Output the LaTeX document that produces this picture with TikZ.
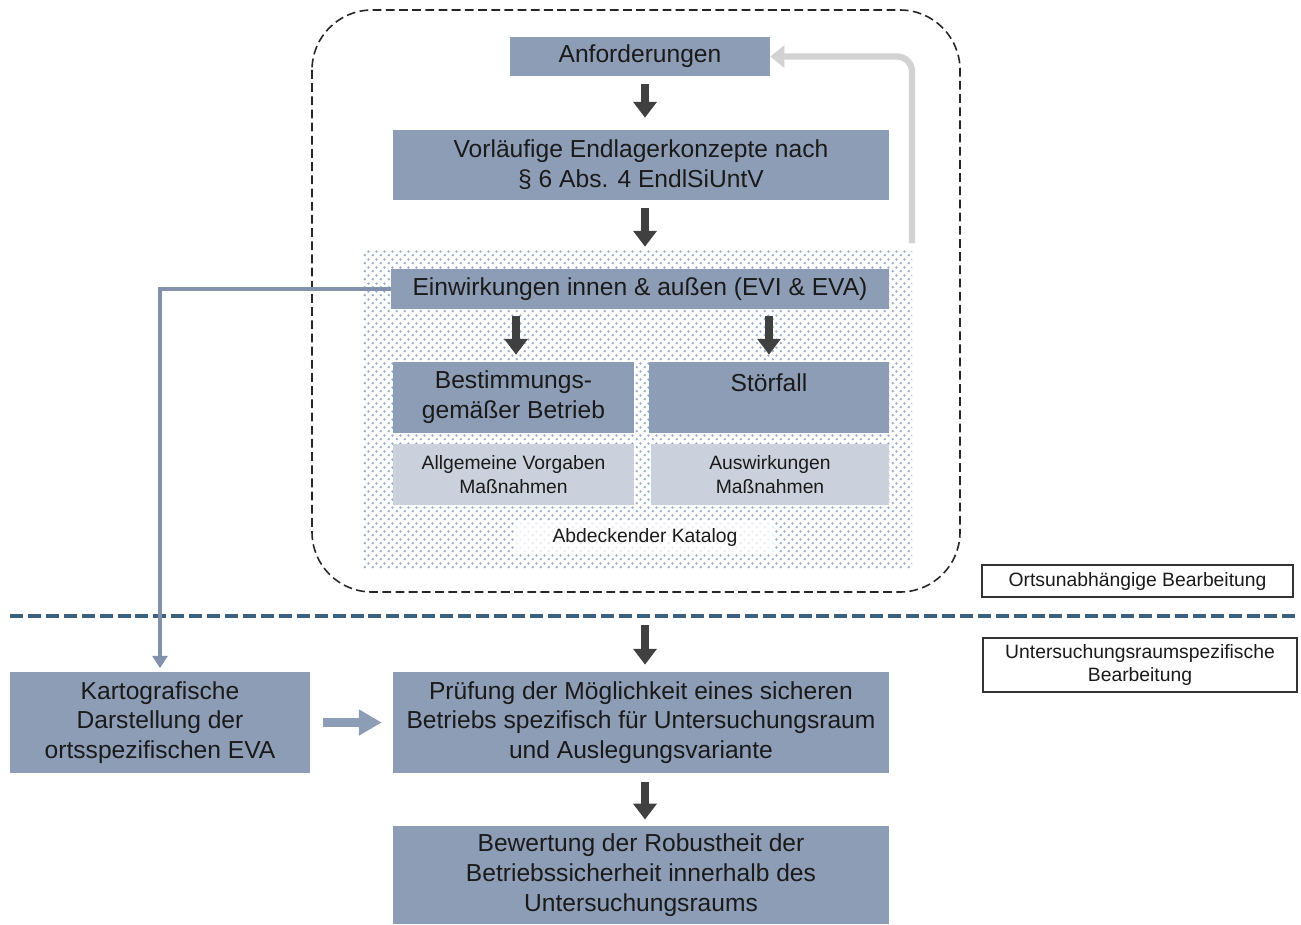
\documentclass[tikz,border=0pt]{standalone}
\usepackage{fontspec}
\setmainfont{Liberation Sans}
\usetikzlibrary{arrows.meta,patterns.meta,calc}
\definecolor{boxc}{RGB}{142,157,182}
\definecolor{lightc}{RGB}{203,209,220}
\definecolor{arrc}{RGB}{64,64,64}
\definecolor{fbc}{RGB}{210,210,210}
\definecolor{bluel}{RGB}{131,145,175}
\definecolor{sepc}{RGB}{58,97,128}
\definecolor{dotc}{RGB}{150,172,198}
\definecolor{txtc}{RGB}{26,26,26}
\tikzdeclarepattern{
  name=catdots,
  type=uncolored,
  bounding box={(0pt,0pt) and (4.6pt,4.6pt)},
  tile size={(4.6pt,4.6pt)},
  code={
    \fill (1.15pt,1.15pt) circle (0.85pt);
    \fill (3.45pt,3.45pt) circle (0.85pt);
  }
}
\begin{document}
\begin{tikzpicture}[x=0.02cm,y=-0.02cm,
  sz/.style 2 args={minimum width=#1*0.02cm, minimum height=#2*0.02cm},
  box/.style={fill=boxc, text=txtc, align=center, inner sep=0pt, font=\fontsize{14}{17}\selectfont},
  lbox/.style={fill=lightc, text=txtc, align=center, inner sep=0pt, font=\fontsize{11}{14}\selectfont},
  labelbox/.style={draw=black!80, line width=0.8pt, fill=white, text=txtc, align=center, inner sep=0pt, font=\fontsize{11}{13}\selectfont},
  katbox/.style={fill=white, fill opacity=0.8, text opacity=1, text=txtc, inner sep=0pt, font=\fontsize{11}{14}\selectfont},
  frame/.style={draw=black!85, line width=0.9pt, dash pattern=on 5pt off 2.5pt, rounded corners=1.2cm},
  darrow/.style={draw=arrc, line width=4.5pt, -{Triangle[width=13pt,length=9pt]}},
  fbarrow/.style={draw=fbc, line width=3.6pt, rounded corners=0.3cm, -{Triangle[width=12.5pt,length=8pt]}},
  blueline/.style={draw=bluel, line width=2.6pt, -{Triangle[width=8.5pt,length=7pt]}},
  barrow/.style={draw=boxc, line width=5.5pt, -{Triangle[width=14pt,length=13pt]}},
  sepline/.style={draw=sepc, line width=2.8pt, dash pattern=on 7.4pt off 2.8pt}
]
\useasboundingbox (0,0) rectangle (1301,924);

% frame and pattern area
\draw[frame] (312,10) rectangle (960,592);
\fill[pattern=catdots, pattern color=dotc] (362,250) rectangle (912,568);

% nodes
\node[box, sz={260}{39}] (anf) at (640,56.5) {Anforderungen};
\node[box, sz={496}{70}] (vor) at (641,165) {Vorläufige Endlagerkonzepte nach\\§ 6 Abs. 4 EndlSiUntV};
\node[box, sz={498}{40}] (ein) at (640,289) {Einwirkungen innen \& außen (EVI \& EVA)};
\node[box, sz={241}{71}] (best) at (513.5,397.5) {Bestimmungs-\\gemäßer Betrieb};
\node[box, sz={240}{71}] (stor) at (769,397.5) {Störfall\\\mbox{}};
\node[lbox, sz={241}{61}] (allg) at (513.5,474.5) {Allgemeine Vorgaben\\Maßnahmen};
\node[lbox, sz={238}{61}] (ausw) at (770,474.5) {Auswirkungen\\Maßnahmen};
\node[katbox, sz={260}{32}] (kat) at (645,537) {Abdeckender Katalog};

\node[labelbox, sz={311}{32}] (ort) at (1137.5,581) {Ortsunabhängige Bearbeitung};
\node[labelbox, sz={314}{54}] (unt) at (1140,665) {Untersuchungsraumspezifische\\Bearbeitung};

\node[box, sz={300}{101}] (kart) at (160,722.5) {Kartografische\\Darstellung der\\ortsspezifischen EVA};
\node[box, sz={496}{101}] (pruf) at (641,722.5) {Prüfung der Möglichkeit eines sicheren\\Betriebs spezifisch für Untersuchungsraum\\und Auslegungsvariante};
\node[box, sz={496}{98}] (bew) at (641,875) {Bewertung der Robustheit der\\Betriebssicherheit innerhalb des\\Untersuchungsraums};

% separator
\coordinate (hl) at (10,616);
\coordinate (hr) at (1295,616);
\draw[sepline] (hl) -- (hr);

% dark arrows
\draw[darrow, shorten <=4.5pt, shorten >=6.8pt] ([xshift=0.1cm]anf.south) -- ([xshift=0.1cm]anf.south |- vor.north);
\draw[darrow, shorten <=4.5pt, shorten >=12.5pt] ([xshift=0.08cm]vor.south) -- ([xshift=0.08cm]vor.south |- ein.north);
\draw[darrow, shorten <=4pt, shorten >=4pt] ([xshift=0.05cm]best.north |- ein.south) -- ([xshift=0.05cm]best.north);
\draw[darrow, shorten <=4pt, shorten >=4pt] (stor.north |- ein.south) -- (stor.north);
\coordinate (sep) at (645,625);
\draw[darrow, shorten >=4pt] (sep) -- (sep |- pruf.north);
\draw[darrow, shorten <=5pt, shorten >=3.5pt] ([xshift=0.08cm]pruf.south) -- ([xshift=0.08cm]pruf.south |- bew.north);

% feedback arrow
\coordinate (fb) at (912,243);
\draw[fbarrow] (fb) |- (anf.east);

% blue connector
\draw[blueline, shorten >=2pt] (ein.west) -| (kart.north);

% Kartografische -> Pruefung
\draw[barrow, shorten <=7.4pt, shorten >=6.2pt] (kart.east) -- (pruf.west);
\end{tikzpicture}
\end{document}
